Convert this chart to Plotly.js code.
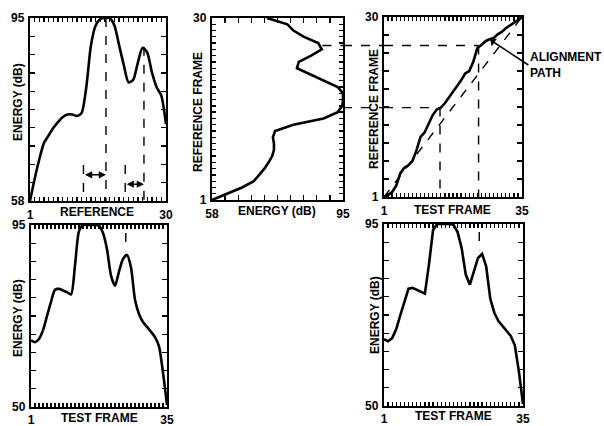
<!DOCTYPE html>
<html><head><meta charset="utf-8">
<script src="https://cdn.plot.ly/plotly-3.0.1.min.js"></script>
<style>html,body{margin:0;padding:0;background:#fff;}#chart{width:604px;height:426px;}</style>
</head><body><div id="chart"></div>
<script>
// ---- data ----
const refFrames = [1,2,3,4,5,6,7,8,9,10,11,12,13,14,15,16,17,18,19,20,21,22,23,24,25,26,27,28,29,30];
const refEnergy = [58,62.5,66.5,69.8,71.3,72.8,74,75,75.5,75.5,75.2,75.8,81,89.5,93.5,94.8,95,95,93.5,89.5,85.5,82,82.5,86,89,88,84,81,79.3,73.5];
const testFrames = [1,2,3,4,5,6,7,8,9,10,11,12,13,14,15,16,17,18,19,20,21,22,23,24,25,26,27,28,29,30,31,32,33,34,35];
const testEnergy = [66.5,66,66.8,69,72.5,76,79,79.2,78.8,78.4,77.8,85,93.5,95,95,95,95,94.8,93,89,82.5,80,83.5,86.6,87.6,84.5,76.5,73,71,69.8,68.6,67.3,65,58.5,50.5];
const pathRef = [1,1.3,1.8,2.8,4.8,5.7,6.1,6.8,8.5,10.7,11.4,12.8,14.2,15.1,15.4,16.1,17,18.1,19,19.8,20.9,21.3,22.8,25,25.5,26.1,26.4,26.6,27.2,27.6,28.2,28.6,29,29.5,30];
const refEnergyRange = [58, 95];
const testEnergyRange = [50, 95];
const refFrameLabels = ['1', '30'];
const testFrameLabels = ['1', '35'];
const refEnergyLabels = ['58', '95'];
const testEnergyLabels = ['50', '95'];
// guide marks
const peakRefFrames = [17.2, 25.3];
const peakRefEnergy = [95, 89.2];
const onsetRefFrames = [12.4, 21.3];
const onsetTopEnergy = 65.3;
const arrowLevels = [63.3, 61.4];
const alignRef = [15.4, 25.4];
const alignTest = [14.8, 24.3];
const alignStartEnergy = [95, 89.2];
const testPeakFrame = [24.7, 24.3];
const testPeakDash = [93, 88.5];
const calloutPoint = [27.2, 26.3];

// ---- helpers ----
const F = {family: 'Liberation Sans, Arial, sans-serif', size: 12, color: '#000', weight: 'bold'};
function frameTicks(n) { return Array.from({length: n}, (_, i) => i + 1); }
function frameText(n, labels) { return frameTicks(n).map((v, i) => i === 0 ? labels[0] : (i === n - 1 ? labels[1] : '')); }
function majorTicks(r) { return Array.from({length: 11}, (_, i) => r[0] + i * (r[1] - r[0]) / 10); }
function majorText(labels) { return Array.from({length: 11}, (_, i) => i === 0 ? labels[0] : (i === 10 ? labels[1] : '')); }
function ax(domain, range, vals, text, len, anchor, standoff) {
  return {domain: domain, range: range, anchor: anchor, tickmode: 'array', tickvals: vals, ticktext: text,
    ticks: 'inside', ticklen: len, tickwidth: 1.3, tickcolor: '#000', showline: true, linewidth: 2.2, linecolor: '#000',
    mirror: 'ticks', showgrid: false, zeroline: false, tickfont: F, fixedrange: true, ticklabelstandoff: standoff === undefined ? 1 : standoff};
}
const W = 604, H = 426;
const dx = (a, b) => [a / W, b / W];
const dy = (t, b) => [1 - b / H, 1 - t / H];

const nR = refFrames.length, nT = testFrames.length;
const layout = {
  width: W, height: H, margin: {l: 0, r: 0, t: 0, b: 0}, showlegend: false,
  paper_bgcolor: '#fff', plot_bgcolor: '#fff', font: F,
  xaxis:  ax(dx(30, 166), [1, nR], frameTicks(nR), frameText(nR, refFrameLabels), 4, 'y'),
  yaxis:  ax(dy(18, 201), refEnergyRange, majorTicks(refEnergyRange), majorText(refEnergyLabels), 5, 'x'),
  xaxis2: ax(dx(212, 343), refEnergyRange, majorTicks(refEnergyRange), majorText(refEnergyLabels), 5, 'y2'),
  yaxis2: ax(dy(18, 200), [1, nR], frameTicks(nR), frameText(nR, refFrameLabels), 4, 'x2'),
  xaxis3: ax(dx(384, 522), [1, nT], frameTicks(nT), frameText(nT, testFrameLabels), 4, 'y3'),
  yaxis3: ax(dy(17, 197), [1, nR], majorTicks([1, nR]), majorText(refFrameLabels), 5, 'x3'),
  xaxis4: ax(dx(31, 167), [1, nT], frameTicks(nT), frameText(nT, testFrameLabels), 4, 'y4', 0),
  yaxis4: ax(dy(225, 407), testEnergyRange, majorTicks(testEnergyRange), majorText(testEnergyLabels), 5, 'x4'),
  xaxis5: ax(dx(384, 523), [1, nT], frameTicks(nT), frameText(nT, testFrameLabels), 4, 'y5', 0),
  yaxis5: ax(dy(224, 406), testEnergyRange, majorTicks(testEnergyRange), majorText(testEnergyLabels), 5, 'x5'),
  shapes: [], annotations: []
};

const dash = {color: '#000', width: 1.4, dash: 'dash'};
function seg(xref, yref, x0, y0, x1, y1) { layout.shapes.push({type: 'line', xref: xref, yref: yref, x0: x0, y0: y0, x1: x1, y1: y1, line: dash}); }
// panel 1 guides
peakRefFrames.forEach((f, i) => seg('x', 'y', f, peakRefEnergy[i], f, refEnergyRange[0]));
onsetRefFrames.forEach(f => seg('x', 'y', f, onsetTopEnergy, f, refEnergyRange[0]));
onsetRefFrames.forEach((f, i) => layout.annotations.push({xref: 'x', yref: 'y', axref: 'x', ayref: 'y', x: peakRefFrames[i], y: arrowLevels[i], ax: f, ay: arrowLevels[i], text: '', showarrow: true, arrowside: 'end+start', arrowhead: 2, arrowsize: 0.9, arrowwidth: 1.6, arrowcolor: '#000'}));
// panel 2 -> 3 guides
alignRef.forEach((r, i) => {
  seg('x2', 'y3', alignStartEnergy[i], r, refEnergyRange[1], r);
  seg('paper', 'y3', layout.xaxis2.domain[1], r, layout.xaxis3.domain[0], r);
  seg('x3', 'y3', 1, r, alignTest[i], r);
  seg('x3', 'y3', alignTest[i], r, alignTest[i], 1);
});
// panel 4, 5 peak marks
seg('x4', 'y4', testPeakFrame[0], testPeakDash[0], testPeakFrame[0], testPeakDash[1]);
seg('x5', 'y5', testPeakFrame[1], testPeakDash[0], testPeakFrame[1], testPeakDash[1]);

// callout
layout.annotations.push({xref: 'x3', yref: 'y3', x: calloutPoint[0], y: calloutPoint[1], ax: 38, ay: 25,
  text: 'ALIGNMENT<br>PATH', align: 'left', xanchor: 'left', yanchor: 'middle', showarrow: true, arrowhead: 1, arrowsize: 1, arrowwidth: 1.6, arrowcolor: '#000', font: F});

// axis titles as annotations
function lab(x, y, t, rot) { layout.annotations.push({xref: 'paper', yref: 'paper', x: x / W, y: 1 - y / H, text: t, textangle: rot ? -90 : 0, showarrow: false, font: F, xanchor: 'center', yanchor: 'middle'}); }
lab(18, 102, 'ENERGY (dB)', true);
lab(97, 212, 'REFERENCE', false);
lab(198, 112, 'REFERENCE FRAME', true);
lab(277, 211, 'ENERGY (dB)', false);
lab(374, 109, 'REFERENCE FRAME', true);
lab(452, 210, 'TEST FRAME', false);
lab(18, 318, 'ENERGY (dB)', true);
lab(99, 418, 'TEST FRAME', false);
lab(375, 315, 'ENERGY (dB)', true);
lab(453, 416, 'TEST FRAME', false);

const solid = {color: '#000', width: 2.6};
const data = [
  {x: refFrames, y: refEnergy, xaxis: 'x', yaxis: 'y', mode: 'lines', line: Object.assign({shape: 'spline', smoothing: 0.7}, solid), hoverinfo: 'skip'},
  {x: refEnergy, y: refFrames, xaxis: 'x2', yaxis: 'y2', mode: 'lines', line: solid, hoverinfo: 'skip'},
  {x: [testFrames[0], testFrames[nT - 1]], y: [refFrames[0], refFrames[nR - 1]], xaxis: 'x3', yaxis: 'y3', mode: 'lines', line: dash, hoverinfo: 'skip'},
  {x: testFrames, y: pathRef, xaxis: 'x3', yaxis: 'y3', mode: 'lines', line: solid, hoverinfo: 'skip'},
  {x: testFrames, y: testEnergy, xaxis: 'x4', yaxis: 'y4', mode: 'lines', line: Object.assign({shape: 'spline', smoothing: 0.7}, solid), hoverinfo: 'skip'},
  {x: testFrames, y: testEnergy, xaxis: 'x5', yaxis: 'y5', mode: 'lines', line: solid, hoverinfo: 'skip'}
];
Plotly.newPlot('chart', data, layout, {staticPlot: true, displayModeBar: false});
</script></body></html>
